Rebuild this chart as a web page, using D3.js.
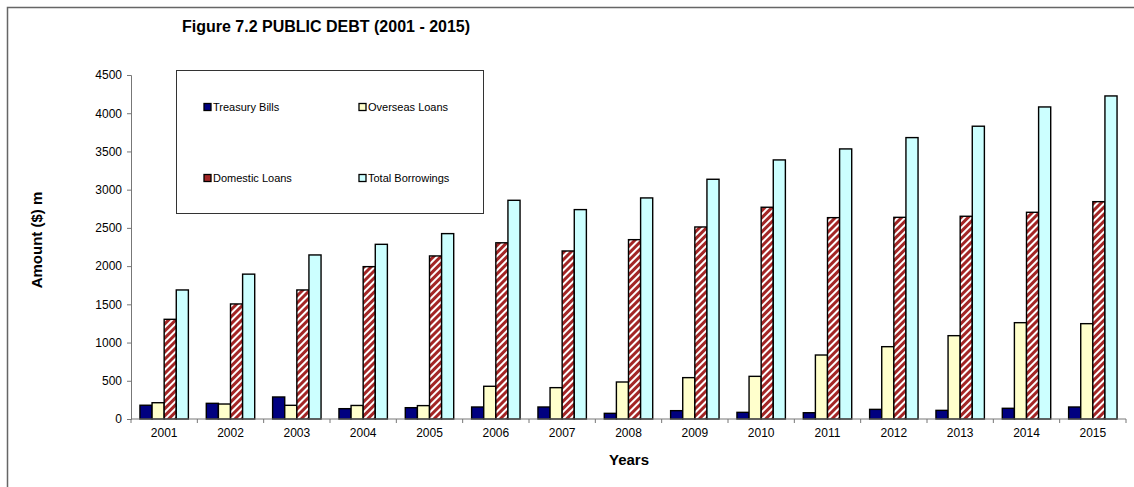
<!DOCTYPE html>
<html>
<head>
<meta charset="utf-8">
<script src="https://cdn.jsdelivr.net/npm/d3@7"></script>
<style>
  html, body { margin: 0; padding: 0; background: #fff; }
  svg { display: block; font-family: "Liberation Sans", Arial, sans-serif; }
</style>
</head>
<body>
<svg id="chart" width="1134" height="487"></svg>
<script>
// Public debt components, $ million
const years = ["2001","2002","2003","2004","2005","2006","2007","2008","2009","2010","2011","2012","2013","2014","2015"];
const treasuryBills   = [180, 205, 288, 135, 148, 157, 157, 74, 109, 87, 82, 126, 113, 140, 157];
const overseasLoans   = [213, 196, 179, 177, 175, 428, 410, 484, 541, 558, 837, 946, 1090, 1260, 1247];
const domesticLoans   = [1304, 1505, 1688, 1993, 2133, 2305, 2198, 2346, 2512, 2770, 2634, 2638, 2652, 2704, 2843];
const totalBorrowings = [1688, 1895, 2146, 2285, 2425, 2861, 2739, 2892, 3136, 3389, 3533, 3681, 3830, 4082, 4226];
const seriesNames = ["Treasury Bills", "Overseas Loans", "Domestic Loans", "Total Borrowings"];
const yTicks = [0, 500, 1000, 1500, 2000, 2500, 3000, 3500, 4000, 4500];

const seriesValues = [treasuryBills, overseasLoans, domesticLoans, totalBorrowings];
const fills = ["#000080", "#FFFFCC", "url(#hatch)", "#CCFFFF"];

const svg = d3.select("#chart");

// diagonal red/white hatch for domestic loans
const defs = svg.append("defs");
const pat = defs.append("pattern")
  .attr("id", "hatch")
  .attr("patternUnits", "userSpaceOnUse")
  .attr("width", 5).attr("height", 5)
  .attr("patternTransform", "rotate(45)");
pat.append("rect").attr("width", 5).attr("height", 5).attr("fill", "#ffffff");
pat.append("rect").attr("width", 3).attr("height", 5).attr("fill", "#a32626");

// outer frame
svg.append("path")
  .attr("d", "M7.5,490 V7.5 H1140")
  .attr("fill", "none").attr("stroke", "#666").attr("stroke-width", 1.5);

// title
svg.append("text")
  .attr("x", 182).attr("y", 32)
  .attr("font-size", 16).attr("font-weight", "bold")
  .text("Figure 7.2 PUBLIC DEBT (2001 - 2015)");

const x0 = d3.scaleBand().domain(years).range([131, 1126]).paddingInner(0.27).paddingOuter(0.135);
const x1 = d3.scaleBand().domain(d3.range(4)).range([0, x0.bandwidth()]);
const y = d3.scaleLinear().domain([0, 4500]).range([419, 75]);

// bars
const groups = svg.append("g").selectAll("g")
  .data(years).join("g")
  .attr("transform", d => `translate(${x0(d)},0)`);

groups.selectAll("rect")
  .data((d, i) => seriesValues.map((s, k) => ({ k, v: s[i] })))
  .join("rect")
  .attr("x", d => x1(d.k))
  .attr("y", d => y(d.v))
  .attr("width", x1.bandwidth())
  .attr("height", d => y(0) - y(d.v))
  .attr("fill", d => fills[d.k])
  .attr("stroke", "#000").attr("stroke-width", 1.4);

// y axis
const yAxis = svg.append("g")
  .attr("transform", "translate(131,0)")
  .call(d3.axisLeft(y).tickValues(yTicks).tickSize(4).tickPadding(5).tickFormat(d3.format("d")));
yAxis.selectAll("text").attr("font-size", 12).attr("fill", "#000").attr("font-family", "Liberation Sans, Arial, sans-serif");
yAxis.selectAll("line, path").attr("stroke", "#777");

// x axis: ticks between categories
const xAxisG = svg.append("g").attr("transform", "translate(0,419)");
xAxisG.append("line").attr("x1", 131).attr("x2", 1126).attr("stroke", "#777");
const step = x0.step();
xAxisG.selectAll("line.tick")
  .data(d3.range(years.length + 1)).join("line")
  .attr("class", "tick")
  .attr("x1", i => 131 + i * step).attr("x2", i => 131 + i * step)
  .attr("y1", 0).attr("y2", 4).attr("stroke", "#777");
xAxisG.selectAll("text")
  .data(years).join("text")
  .attr("x", d => x0(d) + x0.bandwidth() / 2)
  .attr("y", 18)
  .attr("text-anchor", "middle")
  .attr("font-size", 12)
  .text(d => d);

// axis titles
svg.append("text")
  .attr("x", 629).attr("y", 465)
  .attr("text-anchor", "middle")
  .attr("font-size", 15).attr("font-weight", "bold")
  .text("Years");
svg.append("text")
  .attr("transform", "translate(42,240) rotate(-90)")
  .attr("text-anchor", "middle")
  .attr("font-size", 15).attr("font-weight", "bold")
  .text("Amount ($) m");

// legend
const legend = svg.append("g");
legend.append("rect")
  .attr("x", 176.5).attr("y", 70.5).attr("width", 307).attr("height", 143)
  .attr("fill", "#fff").attr("stroke", "#333").attr("stroke-width", 1);
const legendPos = [[204, 107], [359, 107], [204, 178], [359, 178]];
seriesNames.forEach((name, k) => {
  const [lx, ly] = legendPos[k];
  legend.append("rect")
    .attr("x", lx).attr("y", ly - 3.5).attr("width", 7).attr("height", 7)
    .attr("fill", k === 2 ? "#a32626" : fills[k])
    .attr("stroke", "#000").attr("stroke-width", 1.3);
  legend.append("text")
    .attr("x", lx + 9).attr("y", ly + 4)
    .attr("font-size", 11)
    .text(name);
});
</script>
</body>
</html>
